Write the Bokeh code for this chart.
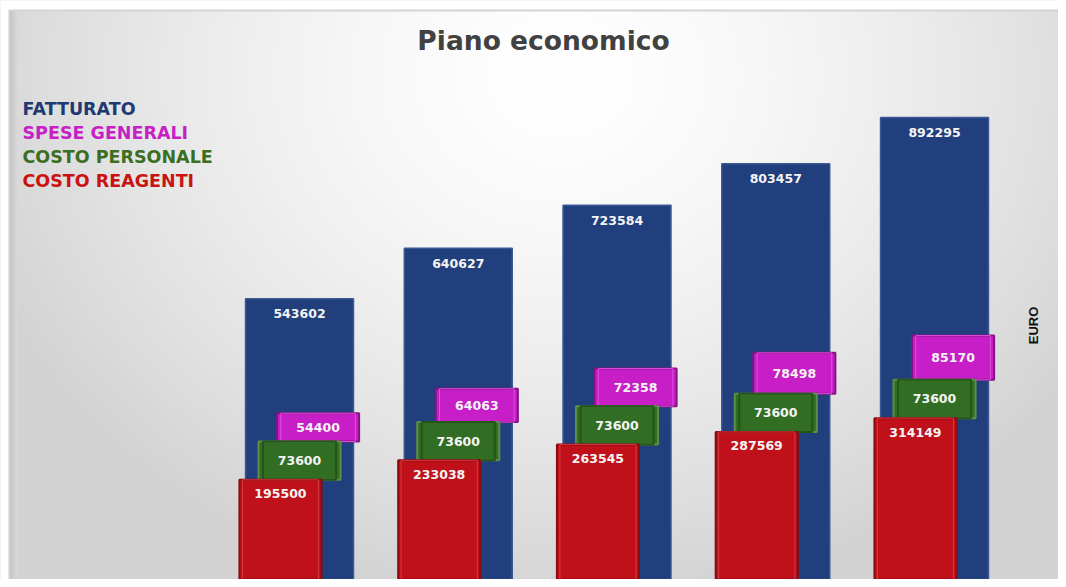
import numpy as np
from bokeh.plotting import figure
from bokeh.models import ColumnDataSource, Range1d, Label
from bokeh.transform import dodge
from bokeh.core.properties import value
from bokeh.embed import file_html
from bokeh.resources import INLINE

# ---- data ----
anni = ["Anno 1", "Anno 2", "Anno 3", "Anno 4", "Anno 5"]
fatturato = [543602, 640627, 723584, 803457, 892295]
costo_reagenti = [195500, 233038, 263545, 287569, 314149]
costo_personale = [73600, 73600, 73600, 73600, 73600]
spese_generali = [54400, 64063, 72358, 78498, 85170]
serie = ["FATTURATO", "SPESE GENERALI", "COSTO PERSONALE", "COSTO REAGENTI"]
colori_serie = ["#1f3a72", "#c61fc6", "#3c6e22", "#cc1111"]

W, H = 1058, 579
X0, X1 = -1.8835, 4.781
Y0, Y1 = 3846, 1117263

x = list(range(len(anni)))
rt = costo_reagenti
gb = rt
gt = [a + b for a, b in zip(rt, costo_personale)]
mb = gt
mt = [a + b for a, b in zip(gt, spese_generali)]
src = ColumnDataSource(dict(
    x=x, anno=anni, fat=fatturato, rt=rt, gb=gb, gt=gt, mb=mb, mt=mt,
    gmid=[(a + b) / 2 for a, b in zip(gb, gt)],
    mmid=[(a + b) / 2 for a, b in zip(mb, mt)],
    fat_l=[str(v) for v in fatturato],
    rea_l=[str(v) for v in costo_reagenti],
    per_l=[str(v) for v in costo_personale],
    spe_l=[str(v) for v in spese_generali],
))

p = figure(width=W, height=H, x_range=Range1d(X0, X1), y_range=Range1d(Y0, Y1),
           output_backend="svg", toolbar_location=None, min_border=0,
           x_axis_location=None, y_axis_location=None)
p.grid.visible = False
p.outline_line_color = None
p.background_fill_color = "#e4e4e4"
p.border_fill_color = "white"

# ---- background gradient (decoration) ----
yy, xx = np.mgrid[0:H, 0:W].astype(float)
d = np.sqrt(((xx - 560) / 620.0) ** 2 + ((yy - 75) / 530.0) ** 2)
v = 255 - 44 * np.clip(d, 0, 1) ** 1.5
strip = (xx >= 8) & (xx < 17)
v = np.where(strip, 194 + (xx - 8) * 2.8, v)
v = np.where((xx >= 8) & (xx < 10), 206, v)
v = np.where((yy >= 9) & (yy < 11) & (xx >= 8), 212, v)
v = np.where((xx < 8) | (yy < 9), 255, v)
v = np.clip(v, 0, 255).astype(np.uint32)
img = np.empty((H, W), dtype=np.uint32)
view = img.view(dtype=np.uint8).reshape((H, W, 4))
view[:, :, 0] = v
view[:, :, 1] = v
view[:, :, 2] = v
view[:, :, 3] = 255
img = img[::-1]
p.image_rgba(image=[img], x=X0, y=Y0, dw=X1 - X0, dh=Y1 - Y0)

# ---- bars ----
p.vbar(x="x", top="fat", bottom=0, width=0.68, source=src,
       fill_color="#203f7c", line_color="#3a5894", line_width=1.5)
p.vbar(x=dodge("x", 0.117), top="mt", bottom="mb", width=0.517, source=src,
       fill_color="#c81ec8", line_color="#861286", line_width=2)
p.vbar(x=dodge("x", 0.117), top="mt", bottom="mb", width=0.47, source=src,
       fill_color=None, line_color="#dc4fdc", line_width=1)
p.vbar(x=dodge("x", 0.0), top="gt", bottom="gb", width=0.517, source=src,
       fill_color="#316d23", line_color="#5d8e4a", line_width=2)
p.vbar(x=dodge("x", 0.0), top="gt", bottom="gb", width=0.46, source=src,
       fill_color=None, line_color="#24561a", line_width=2)
p.vbar(x=dodge("x", -0.12), top="rt", bottom=0, width=0.517, source=src,
       fill_color="#c0111b", line_color="#8c0a10", line_width=2)
p.vbar(x=dodge("x", -0.12), top="rt", bottom=0, width=0.48, source=src,
       fill_color=None, line_color="#d23a40", line_width=1)

# ---- value labels ----
lab = dict(text_align="center", text_baseline="middle",
           text_font=value("DejaVu Sans"), text_font_style="bold",
           text_font_size="12.5px", text_color="#f4f4f4", source=src)
p.text(x="x", y="fat", text="fat_l", y_offset=15, **lab)
p.text(x=dodge("x", -0.12), y="rt", text="rea_l", y_offset=14, **lab)
p.text(x=dodge("x", 0.0), y="gmid", text="per_l", **lab)
p.text(x=dodge("x", 0.117), y="mmid", text="spe_l", **lab)

# ---- title, legend, axis label ----
p.add_layout(Label(x=543, y=H - 40, x_units="screen", y_units="screen",
                   text="Piano economico", text_align="center", text_baseline="middle",
                   text_font="DejaVu Sans", text_font_style="bold",
                   text_font_size="26.5px", text_color="#414141"))
for i, (s, c) in enumerate(zip(serie, colori_serie)):
    p.add_layout(Label(x=22, y=H - 108 - 24.2 * i, x_units="screen", y_units="screen",
                       text=s, text_align="left", text_baseline="middle",
                       text_font="DejaVu Sans", text_font_style="bold",
                       text_font_size="17.5px", text_color=c))
p.add_layout(Label(x=1033, y=H - 325, x_units="screen", y_units="screen",
                   text="EURO", angle=np.pi / 2, text_align="center",
                   text_baseline="middle", text_font="Liberation Sans",
                   text_font_style="bold", text_font_size="13px",
                   text_color="#111111"))

open("out.html", "w").write(file_html(p, INLINE))
